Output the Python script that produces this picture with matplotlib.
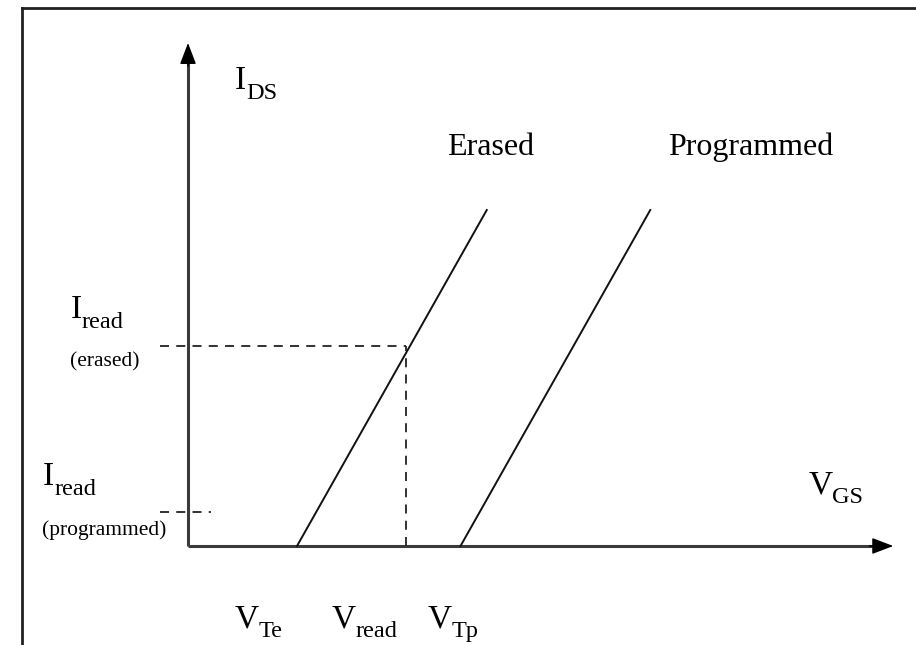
import matplotlib
matplotlib.use("Agg")
import matplotlib.pyplot as plt
from matplotlib.lines import Line2D
from matplotlib.transforms import offset_copy

# transfer characteristics of a flash cell (arbitrary units)
cell_states = ["Erased", "Programmed"]
v_threshold = [1.0, 2.5]          # V_Te, V_Tp
i_read = [2.0, 0.34]              # read current, erased / programmed
v_read = 2.0
slope = 1.93
i_top = 3.36

plt.rcParams["font.family"] = ["Liberation Serif", "DejaVu Serif"]

fig = plt.figure(figsize=(9.16, 6.45), dpi=100)
ax = fig.add_axes([0, 0, 1, 1])
ax.set_xlim(-1.725, 6.679)
ax.set_ylim(-0.99, 5.46)
ax.axis("off")

# frame round the picture
fig.add_artist(Line2D([22 / 916, 1], [1 - 8 / 645] * 2, transform=fig.transFigure,
                      color="#222222", lw=2))
fig.add_artist(Line2D([22 / 916] * 2, [0, 1 - 8 / 645], transform=fig.transFigure,
                      color="#222222", lw=2))

# axes with black arrow heads
axis_col = "#3a3a3a"
ax.plot([0, 0], [0, 4.88], color=axis_col, lw=2.2, solid_capstyle="butt")
ax.plot([0, 6.33], [0, 0], color=axis_col, lw=2.2, solid_capstyle="butt")
head = dict(arrowstyle="-|>,head_length=0.55,head_width=0.21", lw=1, color="black",
            mutation_scale=24, shrinkA=0, shrinkB=0)
ax.annotate("", xy=(0, 5.03), xytext=(0, 4.80), arrowprops=head)
ax.annotate("", xy=(6.47, 0), xytext=(6.25, 0), arrowprops=head)

# I-V lines
for vt in v_threshold:
    ax.plot([vt, vt + i_top / slope], [0, i_top], color="#111111", lw=1.4)

dash = dict(color="#222222", lw=1.3, dashes=(5, 4))
ax.plot([-0.26, v_read], [i_read[0], i_read[0]], **dash)
ax.plot([v_read, v_read], [0, i_read[0]], **dash)
ax.plot([-0.26, 0.21], [i_read[1], i_read[1]], **dash)


def symbol(x, y, main, sub, size=24, subsize=17.5, drop=7):
    # main letter, then a lowered subscript right after it
    adv = {"I": 0.333, "V": 0.722}[main] * size
    ax.text(x, y, main, fontsize=size, va="baseline")
    tr = offset_copy(ax.transData, fig=fig, x=adv, y=-drop, units="points")
    ax.text(x, y, sub, fontsize=subsize, va="baseline", transform=tr)


symbol(0.43, 4.57, "I", "DS")
symbol(5.69, 0.53, "V", "GS")
ax.text(2.38, 3.91, cell_states[0], fontsize=23, va="baseline")
ax.text(4.40, 3.91, cell_states[1], fontsize=23, va="baseline")

symbol(0.43, -0.81, "V", "Te")
symbol(1.32, -0.81, "V", "read")
symbol(2.20, -0.81, "V", "Tp")

symbol(-1.08, 2.28, "I", "read")
ax.text(-1.08, 1.80, "(erased)", fontsize=15.5, va="baseline")
symbol(-1.33, 0.61, "I", "read")
ax.text(-1.34, 0.11, "(programmed)", fontsize=15.5, va="baseline")

fig.savefig("out.png", dpi=100, facecolor="white")
